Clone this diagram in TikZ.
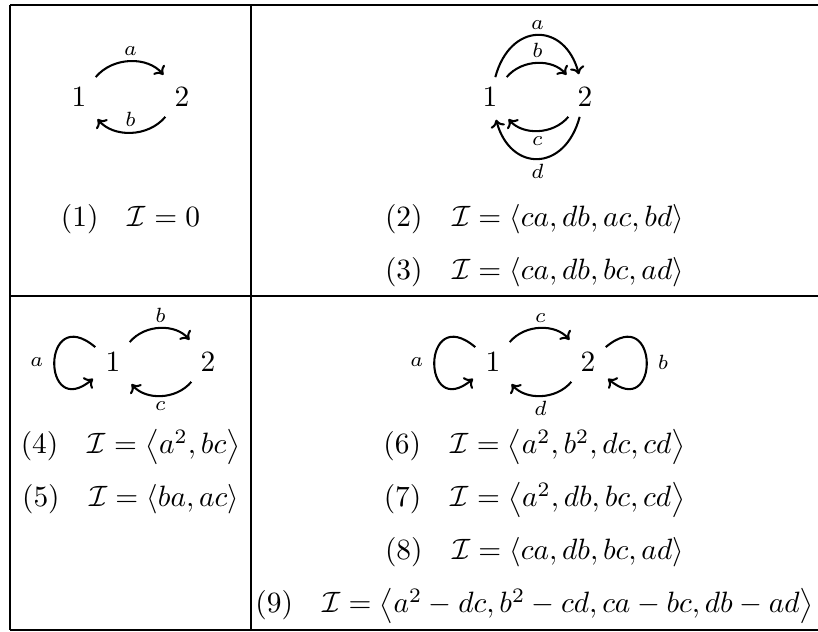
\documentclass[tikz,border=0pt]{standalone}
\usepackage{amsmath,amssymb}
\usepackage{tikz}
\usetikzlibrary{arrows.meta}
\tikzset{
  vtx/.style={inner sep=3.33pt},
  every edge/.style={draw,->,>={To[length=2.6pt,width=5pt]},shorten >=1pt,line width=0.7pt},
}

\begin{document}
\begin{tikzpicture}[
  x=0.34pt,y=-0.34pt,
  rule/.style={line width=0.8pt},
  lab/.style={font=\scriptsize,inner sep=1.6pt},
  eqn/.style={anchor=base,inner sep=1pt}
]
\useasboundingbox (0,0) rectangle (818,632);

% table rules
\draw[rule] (10,5) -- (822,5);
\draw[rule] (10,296) -- (822,296);
\draw[rule] (10,630) -- (822,630);
\draw[rule] (10,5) -- (10,630);
\draw[rule] (251,5) -- (251,630);

% (1)
\node[vtx] (A1) at (79,97) {$1$};
\node[vtx] (A2) at (182,97) {$2$};
\path
(A1) edge[out=50,in=130] node[lab,above] {$a$} (A2)
(A2) edge[out=-130,in=-50] node[lab,above] {$b$} (A1);
\node[eqn] (r1) at (130.5,227) {$(1)\quad\mathcal{I}=0$};

% (2), (3)
\node[vtx] (B1) at (490,97) {$1$};
\node[vtx] (B2) at (585,97) {$2$};
\path
(B1) edge[out=75,in=105,looseness=1.75] node[lab,above] {$a$} (B2)
(B1) edge[out=50,in=130] node[lab,above] {$b$} (B2)
(B2) edge[out=-130,in=-50] node[lab,below] {$c$} (B1)
(B2) edge[out=-105,in=-75,looseness=1.75] node[lab,below] {$d$} (B1);
\node[eqn] (r2) at (534.5,227) {$(2)\quad\mathcal{I}=\langle ca,db,ac,bd\rangle$};
\node[eqn] (r3) at (534.5,280) {$(3)\quad\mathcal{I}=\langle ca,db,bc,ad\rangle$};

% (4), (5)
\node[vtx] (C1) at (113,362) {$1$};
\node[vtx] (C2) at (208,362) {$2$};
\path
(C1) edge[out=140,in=220,distance=24pt] node[lab,left=2pt] {$a$} (C1)
(C1) edge[out=50,in=130] node[lab,above] {$b$} (C2)
(C2) edge[out=-130,in=-50] node[lab,below] {$c$} (C1);
\node[eqn] (r4) at (130.5,454) {$(4)\quad\mathcal{I}=\left\langle a^2,bc\right\rangle$};
\node[eqn] (r5) at (130.5,507) {$(5)\quad\mathcal{I}=\langle ba,ac\rangle$};

% (6)--(9)
\node[vtx] (D1) at (493,362) {$1$};
\node[vtx] (D2) at (588,362) {$2$};
\path
(D1) edge[out=140,in=220,distance=24pt] node[lab,left=2pt] {$a$} (D1)
(D1) edge[out=50,in=130] node[lab,above] {$c$} (D2)
(D2) edge[out=-130,in=-50] node[lab,below] {$d$} (D1)
(D2) edge[out=40,in=-40,distance=24pt] node[lab,right=2pt] {$b$} (D2);
\node[eqn] (r6) at (534.5,454) {$(6)\quad\mathcal{I}=\left\langle a^2,b^2,dc,cd\right\rangle$};
\node[eqn] (r7) at (534.5,507) {$(7)\quad\mathcal{I}=\left\langle a^2,db,bc,cd\right\rangle$};
\node[eqn] (r8) at (534.5,560) {$(8)\quad\mathcal{I}=\langle ca,db,bc,ad\rangle$};
\node[eqn] (r9) at (534.5,613) {$(9)\quad\mathcal{I}=\left\langle a^2-dc,b^2-cd,ca-bc,db-ad\right\rangle$};

\end{tikzpicture}
\end{document}
